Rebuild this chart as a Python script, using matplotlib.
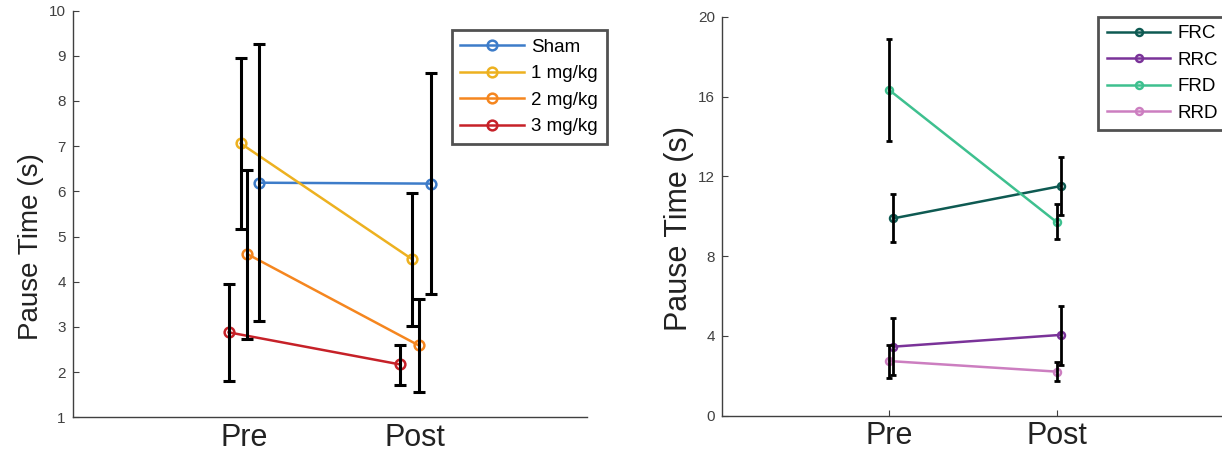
import numpy as np
import matplotlib
matplotlib.use("Agg")
import matplotlib.pyplot as plt

plt.rcParams['font.family'] = ['Liberation Sans', 'DejaVu Sans']

# ---- data ----
phases = ["Pre", "Post"]

# left panel: dose groups
dose_names = ["Sham", "1 mg/kg", "2 mg/kg", "3 mg/kg"]
dose_colors = ["#3D7CC9", "#EDB120", "#F5861F", "#C62128"]
dose_offsets = [0.09, -0.02, 0.02, -0.09]
dose_mean = [[6.19, 6.17], [7.06, 4.50], [4.61, 2.59], [2.88, 2.17]]
dose_lo = [[3.14, 3.73], [5.16, 3.03], [2.73, 1.55], [1.80, 1.71]]
dose_hi = [[9.25, 8.61], [8.94, 5.96], [6.47, 3.61], [3.94, 2.60]]

# right panel: conditions
cond_names = ["FRC", "RRC", "FRD", "RRD"]
cond_colors = ["#0E5A52", "#7A3399", "#3EC08F", "#CC7EC0"]
cond_offsets = [0.025, 0.025, 0.0, 0.0]
cond_mean = [[9.89, 11.51], [3.46, 4.05], [16.33, 9.71], [2.74, 2.21]]
cond_lo = [[8.69, 10.06], [2.04, 2.54], [13.77, 8.84], [1.90, 1.74]]
cond_hi = [[11.13, 12.97], [4.88, 5.51], [18.88, 10.63], [3.54, 2.71]]

W, H = 1222, 453
fig = plt.figure(figsize=(W / 100, H / 100), dpi=100)

ax1 = fig.add_axes([72.7 / W, 35.7 / H, 514 / W, 406.8 / H])
ax2 = fig.add_axes([721.7 / W, 37.3 / H, 502.2 / W, 399 / H])

x = np.array([1, 2])
axis_col = "#404040"


def draw_panel(ax, names, colors, offsets, mean, lo, hi, ms, cap, elw):
    handles = []
    for i in range(len(names)):
        xs = x + offsets[i]
        m = np.array(mean[i])
        yerr = [m - np.array(lo[i]), np.array(hi[i]) - m]
        h, = ax.plot(xs, m, '-o', color=colors[i], lw=1.8, ms=ms,
                     mfc='none', mew=1.8, label=names[i], zorder=2)
        ax.errorbar(xs, m, yerr=yerr, fmt='none', ecolor='black',
                    elinewidth=elw, capsize=cap, capthick=elw, zorder=3)
        handles.append(h)
    return handles


h1 = draw_panel(ax1, dose_names, dose_colors, dose_offsets,
                dose_mean, dose_lo, dose_hi, 7, 4, 2.2)
h2 = draw_panel(ax2, cond_names, cond_colors, cond_offsets,
                cond_mean, cond_lo, cond_hi, 5, 2, 2.0)

for ax in (ax1, ax2):
    ax.set_xlim(0, 3)
    ax.set_xticks(x)
    ax.set_xticklabels(phases, fontsize=22)
    for s in ("top", "right"):
        ax.spines[s].set_visible(False)
    for s in ("left", "bottom"):
        ax.spines[s].set_color(axis_col)
        ax.spines[s].set_linewidth(1.0)
    ax.tick_params(axis='y', direction='in', length=4, width=0.8,
                   colors=axis_col, labelsize=11, pad=5)
    ax.tick_params(axis='x', direction='in', length=4, width=0.8,
                   colors=axis_col, labelcolor='#222222', pad=4)

ax1.tick_params(axis='x', length=0)
ax1.set_ylim(1, 10)
ax1.set_yticks(range(1, 11))
ax2.set_ylim(0, 20)
ax2.set_yticks([0, 4, 8, 12, 16, 20])

ax1.set_ylabel("Pause Time (s)", fontsize=20, color='#222222')
ax1.yaxis.set_label_coords(-0.056, 0.42)
ax2.set_ylabel("Pause Time (s)", fontsize=22, color='#222222')
ax2.yaxis.set_label_coords(-0.055, 0.47)

leg_kw = dict(loc='upper left', fontsize=13.5, frameon=True, fancybox=False,
              handlelength=3.4, handletextpad=0.4, labelspacing=0.5,
              borderpad=0.45, borderaxespad=0)
leg1 = fig.legend(handles=h1, bbox_to_anchor=(451.7 / W, 1 - 30 / H), **leg_kw)
leg2 = fig.legend(handles=h2, bbox_to_anchor=(1098.3 / W, 1 - 16.7 / H), **leg_kw)
for leg in (leg1, leg2):
    leg.get_frame().set_edgecolor('#262626')
    leg.get_frame().set_linewidth(2.0)

fig.savefig("out.png", dpi=100)
